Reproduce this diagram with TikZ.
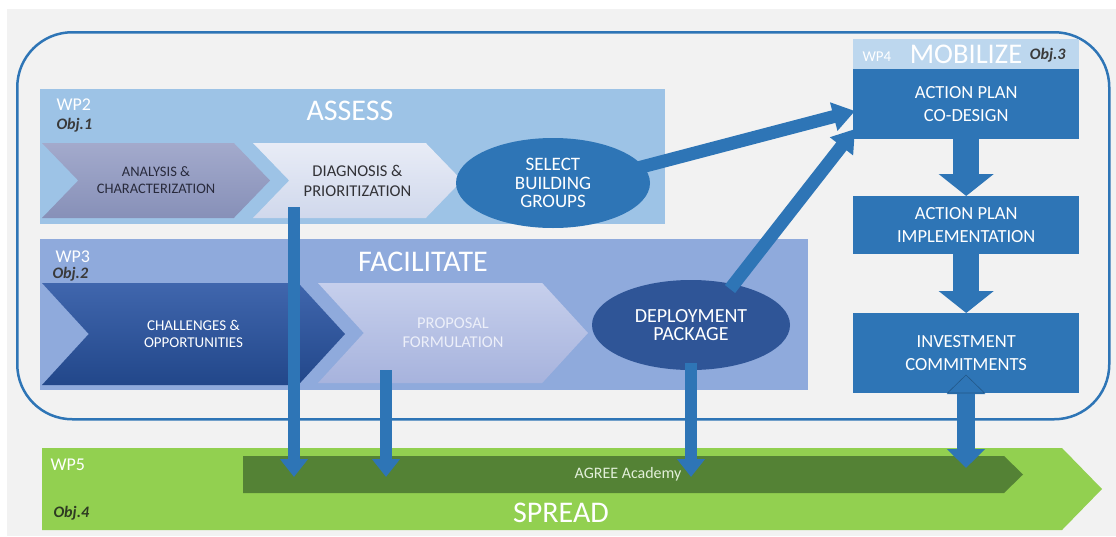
\documentclass[tikz,border=0pt]{standalone}
\usepackage{fontspec}
\setmainfont{Carlito}
\usetikzlibrary{shapes.geometric,shapes.symbols,arrows.meta,calc}
\definecolor{bggray}{HTML}{F2F2F2}
\definecolor{frameblue}{HTML}{2E75B6}
\definecolor{wptwo}{HTML}{9DC3E6}
\definecolor{wpthree}{HTML}{8FAADC}
\definecolor{midblue}{HTML}{2E75B6}
\definecolor{darkblue}{HTML}{2F5597}
\definecolor{hdrblue}{HTML}{BDD7EE}
\definecolor{greenA}{HTML}{92D050}
\definecolor{greenB}{HTML}{548235}
\definecolor{objgray}{HTML}{3A3A3A}
\definecolor{objgreen}{HTML}{2E3B22}
\definecolor{anaTop}{HTML}{A3AACC}
\definecolor{anaBot}{HTML}{8790B8}
\definecolor{anaTxt}{HTML}{282A3C}
\definecolor{diaTop}{HTML}{E8ECF6}
\definecolor{diaBot}{HTML}{D0D8EC}
\definecolor{diaTxt}{HTML}{323237}
\definecolor{chaTop}{HTML}{4066AD}
\definecolor{chaBot}{HTML}{22478A}
\definecolor{proTop}{HTML}{C6CFEC}
\definecolor{proBot}{HTML}{A7B3DD}
\definecolor{proTxt}{HTML}{ECEFF9}
\definecolor{acaTxt}{HTML}{E2EFD9}
\begin{document}
\begin{tikzpicture}[x=1pt,y=-1pt,
  fs/.style 2 args={font=\fontsize{#1}{#2}\selectfont},
  band/.style={inner sep=0pt, anchor=north west},
  chev/.style={signal, signal to=east, signal from=west, signal pointer angle=92,
    inner sep=0pt, align=center},
  ell/.style={ellipse, inner sep=0pt, align=center, text=white},
  abox/.style={fill=midblue, minimum width=226pt, inner sep=0pt, anchor=north west,
    align=center, text=white, fs={18.5}{23}},
  wplab/.style={anchor=base west, text=white, fs={18}{18}},
  objlab/.style={anchor=base west, text=objgray, font=\fontsize{16}{16}\selectfont\bfseries\itshape},
  title/.style={anchor=base, text=white, fs={30}{30}},
  blockarrow/.style={draw=midblue, line width=26pt, -{Triangle[width=54pt,length=22pt]}},
  varrow/.style={draw=midblue, line width=12pt, -{Triangle[width=27pt,length=18pt]}},
  darrow/.style={draw=midblue, line width=13pt, -{Triangle[width=28pt,length=22pt]}},
  dblarrow/.style={draw=midblue, line width=18pt,
    {Triangle[width=37pt,length=19pt]}-{Triangle[width=37pt,length=19pt]}}]

% background
\fill[white] (0,0) rectangle (1116,536);
\fill[bggray] (7,9) rectangle (1116,536);
\useasboundingbox (0,0) rectangle (1116,536);

% outer frame
\node[draw=frameblue, line width=2.5pt, rounded corners=55pt, minimum width=1092pt,
  minimum height=387pt, inner sep=0pt, anchor=north west] (frame) at (16,31) {};

% WP2 band
\node[band, fill=wptwo, minimum width=625pt, minimum height=135pt] (wp2) at (40,89) {};
\node[wplab] (wp2l) at (53,110) {WP2};
\node[objlab] (obj1) at (53,129) {Obj.1};
\node[title] (assess) at (350,120) {ASSESS};

% WP3 band
\node[band, fill=wpthree, minimum width=768pt, minimum height=151pt] (wp3) at (40,239) {};
\node[wplab] (wp3l) at (52,262) {WP3};
\node[objlab] (obj2) at (49,278) {Obj.2};
\node[title] (facil) at (423,271) {FACILITATE};

% chevrons WP2
\node[chev, top color=anaTop, bottom color=anaBot, minimum width=228pt, minimum height=75pt,
  text=anaTxt, fs={14.5}{17}] (analysis) at (156,180.5)
  {ANALYSIS \&\\CHARACTERIZATION};
\node[chev, top color=diaTop, bottom color=diaBot, minimum width=209pt, minimum height=75pt,
  text=diaTxt, fs={16.5}{20}] (diag) at (357.5,180.5)
  {DIAGNOSIS \&\\PRIORITIZATION};
\node[ell, fill=midblue, minimum width=194pt, minimum height=90pt, fs={19}{18.5}] (select) at (553,183)
  {SELECT\\BUILDING\\GROUPS};

% chevrons WP3
\node[chev, top color=chaTop, bottom color=chaBot, minimum width=303pt, minimum height=102pt,
  text=white, fs={15}{17}, signal pointer angle=95] (chall) at (193.5,334)
  {CHALLENGES \&\\OPPORTUNITIES};
\node[chev, top color=proTop, bottom color=proBot, minimum width=270pt, minimum height=100pt,
  text=proTxt, fs={16.5}{19}, signal pointer angle=95] (prop) at (453,333)
  {PROPOSAL\\FORMULATION};
\node[ell, fill=darkblue, minimum width=198pt, minimum height=90pt, fs={20}{18}] (deploy) at (691,325)
  {DEPLOYMENT\\PACKAGE};

% WP4
\node[band, fill=hdrblue, minimum width=226pt, minimum height=30pt] (hdr) at (853,39) {};
\node[anchor=base west, text=white, fs={15}{15}] (wp4l) at (859,61) {WP4};
\node[anchor=base, text=white, fs={28.5}{28.5}] (mob) at (966,63) {MOBILIZE};
\node[anchor=base east, text=objgray, font=\fontsize{16}{16}\selectfont\bfseries\itshape] (obj3) at (1069,59) {Obj.3};
\node[abox, minimum height=70pt] (codesign) at (853,69) {ACTION PLAN\\CO-DESIGN};
\node[abox, minimum height=58pt] (implement) at (853,196) {ACTION PLAN\\IMPLEMENTATION};
\node[abox, minimum height=80pt] (invest) at (853,313) {INVESTMENT\\COMMITMENTS};
\draw[blockarrow] (codesign.south) -- (implement.north);
\draw[blockarrow] (implement.south) -- (invest.north);

% WP5
\fill[greenA] (42,448) -- (1062,448) -- (1102,489) -- (1062,530) -- (42,530) -- cycle;
\fill[greenB] (243,456) -- (1004,456) -- (1023,474.5) -- (1004,493) -- (243,493) -- cycle;
\node[wplab] (wp5l) at (47,470) {WP5};
\node[anchor=base west, text=objgreen, font=\fontsize{16}{16}\selectfont\bfseries\itshape] (obj4) at (50,517) {Obj.4};
\node[anchor=center, text=acaTxt, fs={16}{16}] (academy) at (628,474) {AGREE Academy};
\node[title] (spread) at (561,522) {SPREAD};

% connectors
\coordinate (a1s) at (294,207);  \coordinate (a1e) at (294,477);
\coordinate (a2s) at (386,370);  \coordinate (a2e) at (386,477);
\coordinate (a3s) at (691,363);  \coordinate (a3e) at (691,477);
\coordinate (d1s) at (630,170);  \coordinate (d1e) at (855,111);
\coordinate (d2s) at (730,289);  \coordinate (d2e) at (855,129);
\coordinate (dbs) at (966,375);  \coordinate (dbe) at (966,468);
\draw[varrow] (a1s) -- (a1e);
\draw[varrow] (a2s) -- (a2e);
\draw[varrow] (a3s) -- (a3e);
\draw[darrow] (d1s) -- (d1e);
\draw[darrow] (d2s) -- (d2e);
\draw[dblarrow] (dbs) -- (dbe);
\draw[draw=black!25!midblue, line width=0.6pt] ($(dbs)+(0,0)$) -- ++(-18.5,18) -- ++(37,0) -- cycle;
\end{tikzpicture}
\end{document}
